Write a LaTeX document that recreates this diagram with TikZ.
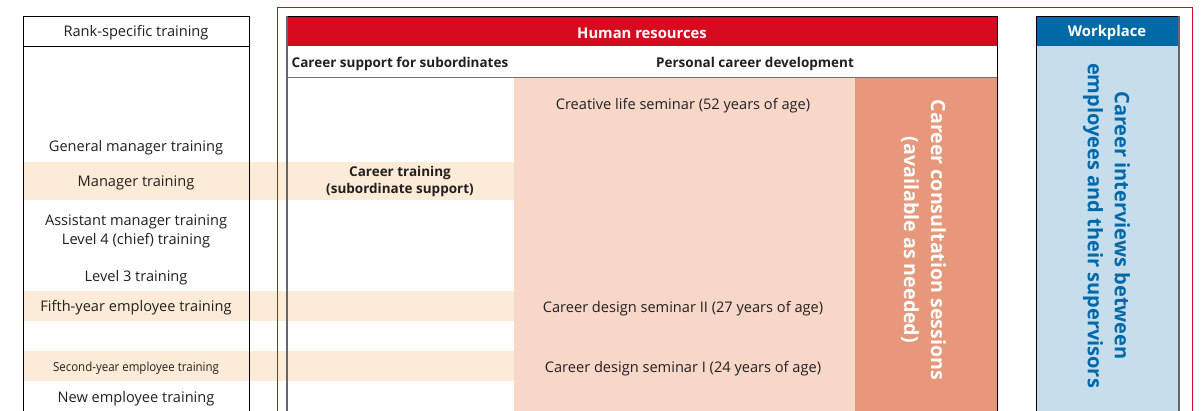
\documentclass[tikz,border=0pt]{standalone}
\usepackage{fontspec}
\setmainfont{Open Sans}
\definecolor{hrred}{RGB}{215,11,32}
\definecolor{peach}{RGB}{247,215,200}
\definecolor{salmon}{RGB}{232,152,122}
\definecolor{band}{RGB}{252,235,214}
\definecolor{wpblue}{RGB}{0,106,166}
\definecolor{wplight}{RGB}{198,221,235}
\definecolor{wptext}{RGB}{0,104,168}
\definecolor{txt}{RGB}{35,31,32}
\begin{document}
\begin{tikzpicture}[x=1pt,y=-1pt,
  lab/.style={inner sep=0pt, text=txt, font=\fontsize{14.6}{17}\selectfont},
  hd/.style={inner sep=0pt, text=txt, font=\fontsize{13.5}{16}\selectfont\bfseries},
  wh/.style={inner sep=0pt, text=white, font=\fontsize{14.8}{17}\selectfont\bfseries},
  frame/.style={draw=black, line width=0.9pt},
  grayline/.style={draw=black!60, line width=1.4pt}]
\clip (0,0) rectangle (1201,410);
\fill[white] (0,0) rectangle (1201,410);

% highlighted rank rows
\fill[band] (23,162) rectangle (514,200);
\fill[band] (23,291) rectangle (514,321);
\fill[band] (23,351) rectangle (514,381);

% rank-specific training column
\draw[frame] (23,16) rectangle (249,420);
\draw[frame] (23,46.5) -- (249,46.5);

% human resources frame
\draw[hrred, line width=0.9pt] (277,7) rectangle (1192,420);

% human resources block
\fill[hrred] (287,16) rectangle (997,46);
\fill[peach] (514,77) rectangle (855,420);
\fill[salmon] (855,77) rectangle (997,420);
\draw[frame] (287,16) -- (997,16) -- (997,420);
\draw[grayline] (287,16) -- (287,420);
\draw[draw=black!55, line width=1pt] (287,77) -- (997,77);

% workplace block
\fill[wpblue] (1036,16) rectangle (1179,46);
\fill[wplight] (1036,46) rectangle (1179,420);
\draw[frame] (1036,420) -- (1036,16) -- (1179,16);
\draw[grayline] (1179,16) -- (1179,420);

% headers
\node[lab] (rank) at (136,33) {Rank-specific training};
\node[wh] (hr) at (642,33) {Human resources};
\node[wh] (wp) at (1107,33) {Workplace};
\node[hd] (sub) at (400,64) {Career support for subordinates};
\node[hd] (pers) at (755,64) {Personal career development};

% rank labels
\node[lab] (gm) at (136,148) {General manager training};
\node[lab] (mgr) at (136,182.5) {Manager training};
\node[lab, align=center, font=\fontsize{14.6}{19}\selectfont] (am) at (136,231.5) {Assistant manager training\\Level 4 (chief) training};
\node[lab] (l3) at (136,277.5) {Level 3 training};
\node[lab] (fifth) at (136,307.5) {Fifth-year employee training};
\node[lab, font=\fontsize{12.5}{14}\selectfont] (second) at (136,368) {\scalebox{0.92}[1]{Second-year employee training}};
\node[lab] (new) at (136,398.5) {New employee training};

% subordinate support
\node[hd, align=center, font=\fontsize{13.5}{17}\selectfont\bfseries] (ct) at (400,181.5) {Career training\\(subordinate support)};

% seminars
\node[lab] (cls) at (683,105.5) {Creative life seminar (52 years of age)};
\node[lab] (cds2) at (683,308.5) {Career design seminar II (27 years of age)};
\node[lab] (cds1) at (683,368.5) {Career design seminar I (24 years of age)};

% vertical labels
\node[inner sep=0pt, rotate=-90, align=center, text=white,
  font=\fontsize{19.6}{27}\selectfont\bfseries] (cons) at (923.5,240)
  {Career consultation sessions\\(available as needed)};
\node[inner sep=0pt, rotate=-90, align=center, text=wptext,
  font=\fontsize{20}{27}\selectfont\bfseries] (intv) at (1106.5,225.5)
  {Career interviews between\\employees and their supervisors};
\end{tikzpicture}
\end{document}
